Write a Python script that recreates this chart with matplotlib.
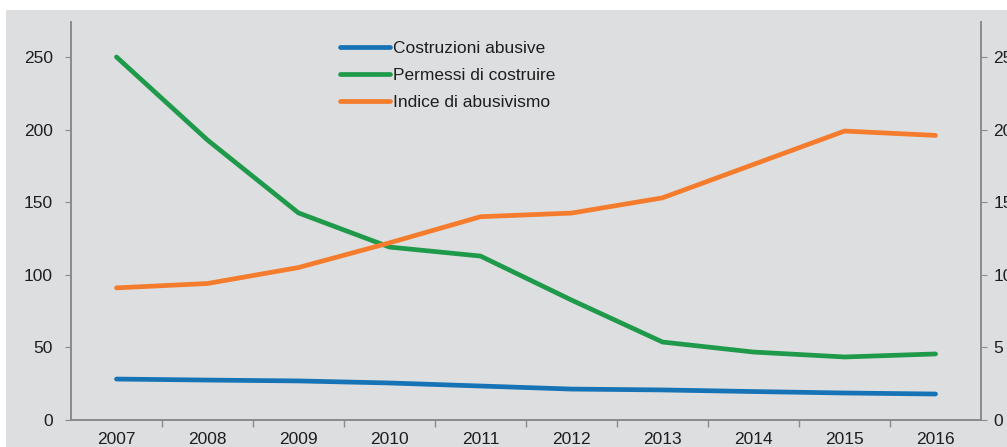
import matplotlib
matplotlib.use("Agg")
import matplotlib.pyplot as plt
import numpy as np
from matplotlib.patches import Rectangle

plt.rcParams["font.family"] = ["Liberation Sans", "DejaVu Sans"]

years = ["2007", "2008", "2009", "2010", "2011", "2012", "2013", "2014", "2015", "2016"]
costruzioni_abusive = [28.2, 27.5, 26.9, 25.5, 23.4, 21.3, 20.7, 19.6, 18.6, 17.9]
permessi_costruire = [250.0, 192.8, 142.6, 119.1, 112.9, 82.6, 53.7, 46.8, 43.4, 45.5]
indice_abusivismo = [9.1, 9.4, 10.5, 12.2, 14.0, 14.25, 15.3, 17.6, 19.9, 19.6]

BG = "#dddee0"
AXIS_GREY = "#8a8a8a"
TEXT = "#1e1e1e"
BLUE = "#1673b6"
GREEN = "#1e9a4a"
ORANGE = "#f47c2c"
FS = 12.5

fig = plt.figure(figsize=(10.07, 4.47), dpi=100, facecolor="white")
# grey panel behind everything, leaving a thin white margin top and left
fig.patches.append(Rectangle((6 / 1007, 0), 1, 437 / 447, transform=fig.transFigure,
                             facecolor=BG, edgecolor="none", zorder=-10))

ax = fig.add_axes([71 / 1007, 27 / 447, 910 / 1007, 398 / 447])
ax.set_facecolor(BG)
ax2 = ax.twinx()

x = np.arange(len(years))
lw = 3.4
l1, = ax.plot(x, costruzioni_abusive, color=BLUE, lw=lw, solid_capstyle="round",
              label="Costruzioni abusive")
l2, = ax.plot(x, permessi_costruire, color=GREEN, lw=lw, solid_capstyle="round",
              label="Permessi di costruire")
l3, = ax2.plot(x, indice_abusivismo, color=ORANGE, lw=lw, solid_capstyle="round",
               label="Indice di abusivismo")

ax.set_xlim(-0.5, len(years) - 0.5)
ax.set_ylim(0, 274.1)
ax2.set_ylim(0, 27.41)
ax.set_yticks(np.arange(0, 251, 50))
ax2.set_yticks(np.arange(0, 26, 5))

ax.set_xticks(x)
ax.set_xticklabels(years)
ax.set_xticks(np.arange(0.5, len(years) - 0.5, 1), minor=True)
ax.tick_params(axis="x", which="major", length=0, pad=9, labelsize=FS, labelcolor=TEXT)
ax.tick_params(axis="x", which="minor", length=5, direction="out", color=AXIS_GREY, width=1)
ax.tick_params(axis="y", length=4, direction="out", color=AXIS_GREY, pad=9,
               labelsize=FS, labelcolor=TEXT)
ax2.tick_params(axis="y", length=4, direction="out", color=AXIS_GREY, pad=5,
                labelsize=FS, labelcolor=TEXT)

for a in (ax, ax2):
    a.spines["top"].set_visible(False)
    for side in ("left", "right", "bottom"):
        a.spines[side].set_color(AXIS_GREY)
        a.spines[side].set_linewidth(1.2)

leg = ax2.legend(handles=[l1, l2, l3], loc="upper left", bbox_to_anchor=(0.2956, 0.952),
                 frameon=False, fontsize=FS, handlelength=2.9, handletextpad=0.15,
                 labelspacing=0.68, borderpad=0, borderaxespad=0)
for t in leg.get_texts():
    t.set_color(TEXT)

fig.savefig("out.png", dpi=100, facecolor="white")
